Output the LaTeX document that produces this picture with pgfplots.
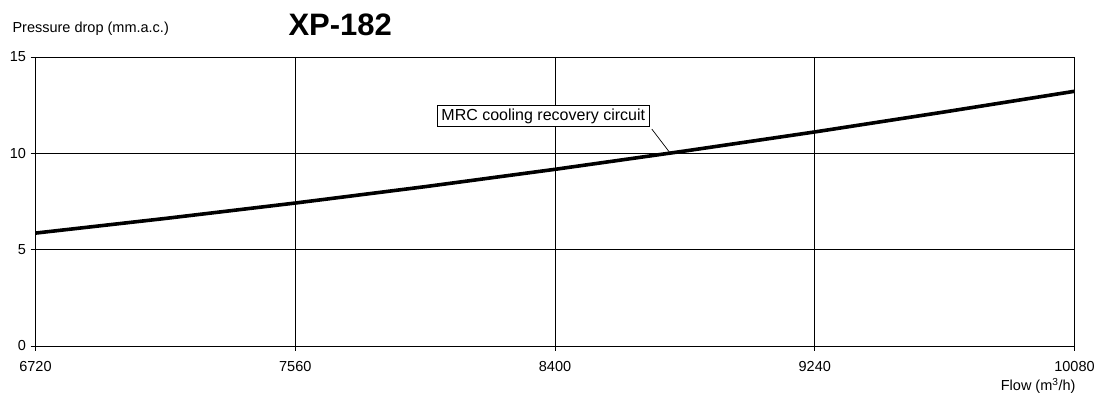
\documentclass[border=0pt]{standalone}
\usepackage{fontspec}
\setmainfont{Liberation Sans}
\usepackage{pgfplots}
\pgfplotsset{compat=1.18}
\begin{document}
\begin{tikzpicture}[x=1pt,y=1pt]
\useasboundingbox (0,0) rectangle (1099,403);
\begin{axis}[
  at={(35.5pt,57pt)}, anchor=south west,
  scale only axis, width=1039pt, height=289pt,
  xmin=6720, xmax=10080, ymin=0, ymax=15,
  xtick={6720,7560,8400,9240,10080},
  ytick={0,5,10,15},
  scaled ticks=false,
  grid=major,
  major grid style={black, line width=0.6pt},
  axis line style={black, line width=0.8pt},
  axis x line*=bottom, axis y line*=left,
  tick align=outside, major tick length=5pt,
  tick style={black, line width=0.8pt},
  every tick label/.append style={font=\fontsize{14.5}{16}\selectfont, black},
  /pgf/number format/assume math mode=true,
  /pgf/number format/1000 sep={},
  xticklabel style={yshift=-7pt},
  yticklabel style={xshift=-1pt},
  clip=false,
]
\addplot[black, line width=3.6pt, line cap=butt] coordinates {
(6720,5.86) (7140,6.62) (7560,7.42) (7980,8.27) (8400,9.17) (8820,10.12) (9240,11.11) (9660,12.15) (10080,13.22)};
\draw[black, line width=0.7pt] (axis cs:8713,11.26) -- (axis cs:8772,10.02);
\node[draw=black, line width=0.7pt, fill=white, inner xsep=4.5pt, inner ysep=3pt, font=\fontsize{16}{18}\selectfont, anchor=north east] at (axis cs:8707,12.5) {MRC cooling recovery circuit};
\end{axis}
\node[anchor=east, font=\fontsize{14.5}{16}\selectfont] at (1079,17) {Flow (m\textsuperscript{3}/h)};
\node[anchor=west, font=\fontsize{14.5}{16}\selectfont] at (9,374) {Pressure drop (mm.a.c.)};
\node[anchor=west, font=\fontsize{31}{34}\selectfont\bfseries] at (285,378) {XP-182};
\end{tikzpicture}
\end{document}
